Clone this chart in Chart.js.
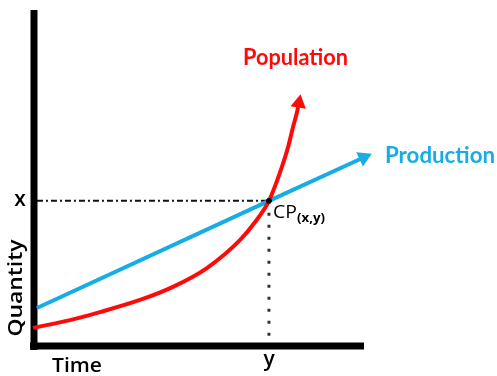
<!DOCTYPE html>
<html>
<head>
<meta charset="utf-8">
<script src="https://cdn.jsdelivr.net/npm/chart.js@4.4.0/dist/chart.umd.min.js"></script>
<style>
  html, body { margin: 0; padding: 0; background: #fff; }
  #wrap { width: 497px; height: 376px; }
</style>
</head>
<body>
<div id="wrap"><canvas id="chart" width="497" height="376"></canvas></div>
<script>
// values (time on x, quantity on y, both 0..10)
const productionTime = [0.09, 7.12, 9.99];
const productionQty = [1.13, 4.32, 5.61];

const populationTime = [-0.03, 1.09, 2.00, 3.21, 4.21, 5.24, 6.24, 6.70, 7.12, 7.45, 7.70, 7.85, 7.97, 8.03];
const populationQty = [0.54, 0.77, 1.01, 1.37, 1.76, 2.32, 3.15, 3.69, 4.32, 5.15, 5.92, 6.52, 6.96, 7.23];

// crossing point CP(x,y)
const crossTime = 7.12;
const crossQty = 4.32;

const axisLabels = ['Time', 'Quantity'];
const pointLabels = ['x', 'y'];
const seriesNames = ['Population', 'Production'];

const RED = '#ff0a0a';
const BLUE = '#16ade6';

function pts(xs, ys) {
    return xs.map((x, i) => ({ x: x, y: ys[i] }));
}

// only the last point shows, as the arrow head
function arrowRadius(n, r) {
    return Array.from({ length: n }, (_, i) => i === n - 1 ? r : 0);
}

const datasets = [
    { // y axis line
        data: [{ x: 0, y: -0.12 }, { x: 0, y: 10 }],
        borderColor: '#000', borderWidth: 7, pointRadius: 0, order: 6
    },
    { // x axis line
        data: [{ x: -0.12, y: 0 }, { x: 10, y: 0 }],
        borderColor: '#000', borderWidth: 7, pointRadius: 0, order: 6
    },
    { // dash-dot guide to x
        data: [{ x: 0.09, y: crossQty }, { x: crossTime, y: crossQty }],
        borderColor: '#111', borderWidth: 2, borderDash: [6, 3, 2, 3], pointRadius: 0, order: 5
    },
    { // dotted guide to y
        data: [{ x: crossTime, y: crossQty }, { x: crossTime, y: 0.09 }],
        borderColor: '#333', borderWidth: 3, borderDash: [3, 9], pointRadius: 0, order: 5
    },
    {
        label: seriesNames[1],
        data: pts(productionTime, productionQty),
        borderColor: BLUE, backgroundColor: BLUE, borderWidth: 4,
        pointStyle: 'triangle', pointRadius: arrowRadius(productionTime.length, 9),
        pointRotation: 65, pointBorderWidth: 0, order: 3
    },
    {
        label: seriesNames[0],
        data: pts(populationTime, populationQty),
        borderColor: RED, backgroundColor: RED, borderWidth: 4,
        cubicInterpolationMode: 'monotone',
        pointStyle: 'triangle', pointRadius: arrowRadius(populationTime.length, 9),
        pointRotation: 10, pointBorderWidth: 0, order: 2
    },
    { // black dot at the crossing
        data: [{ x: crossTime, y: crossQty }],
        backgroundColor: '#000', borderColor: '#000', pointRadius: 2.5, showLine: false, order: 1
    }
];

// draw text squeezed / stretched to the width it has in the sketch
function drawText(ctx, txt, x, y, w, font, color, align, angle) {
    ctx.save();
    ctx.font = font;
    ctx.fillStyle = color;
    ctx.textAlign = align || 'center';
    ctx.textBaseline = 'alphabetic';
    ctx.translate(x, y);
    if (angle) ctx.rotate(angle);
    const m = ctx.measureText(txt).width;
    if (w) ctx.scale(w / m, 1);
    ctx.fillText(txt, 0, 0);
    ctx.restore();
}

const labelPlugin = {
    id: 'labels',
    afterDraw(chart) {
        const ctx = chart.ctx;
        drawText(ctx, seriesNames[0], 295.5, 65, 105, 'bold 22px Lato', RED);
        drawText(ctx, seriesNames[1], 440, 163, 110, 'bold 22px Lato', BLUE);
        drawText(ctx, axisLabels[0], 77, 372, 50, '600 20px "Open Sans"', '#000');
        drawText(ctx, axisLabels[1], 22, 288, 97, '600 20px "Open Sans"', '#000', 'center', -Math.PI / 2);
        drawText(ctx, pointLabels[0], 20, 206, 0, '600 21px "Open Sans"', '#000');
        drawText(ctx, pointLabels[1], 269, 366, 0, '600 21px "Open Sans"', '#000');
        drawText(ctx, 'CP', 273, 218, 24, '18px "Open Sans"', '#000', 'left');
        drawText(ctx, '(' + pointLabels[0] + ',' + pointLabels[1] + ')', 297, 222, 28, 'bold 12px "Open Sans"', '#000', 'left');
    }
};

new Chart(document.getElementById('chart'), {
    type: 'scatter',
    data: { datasets: datasets.map(d => Object.assign({ showLine: true, fill: false, clip: false }, d)) },
    options: {
        responsive: false,
        animation: false,
        events: [],
        layout: { padding: { left: 34, right: 133, top: 10, bottom: 30 } },
        plugins: { legend: { display: false }, tooltip: { enabled: false } },
        scales: {
            x: { type: 'linear', display: false, min: 0, max: 10 },
            y: { type: 'linear', display: false, min: 0, max: 10 }
        }
    },
    plugins: [labelPlugin]
});
</script>
</body>
</html>
